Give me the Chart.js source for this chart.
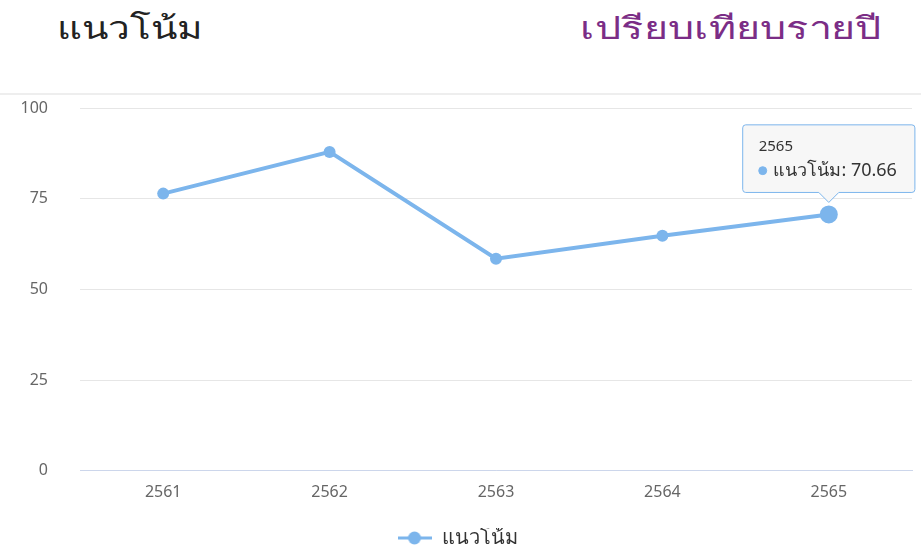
<!DOCTYPE html>
<html>
<head>
<meta charset="utf-8">
<script src="https://cdn.jsdelivr.net/npm/chart.js@4/dist/chart.umd.min.js"></script>
<style>
    body { margin: 0; background: #fff; font-family: "Noto Sans", sans-serif; }
    #wrap { position: relative; width: 921px; height: 547px; overflow: hidden; }
    .title { position: absolute; top: 7px; font-size: 31px; line-height: 40px; }
    #title-left { left: 57px; color: #222; transform: scaleX(1.25); transform-origin: left center; }
    #title-right { right: 39px; color: #7b2d86; transform: scaleX(1.33); transform-origin: right center; }
    #sep { position: absolute; left: 0; right: 0; top: 93px; height: 2px; background: #eeeeee; }
    #chart-box { position: absolute; left: 0; top: 0; width: 921px; height: 547px; }
</style>
</head>
<body>
<div id="wrap">
    <div id="sep"></div>
    <div class="title" id="title-left">แนวโน้ม</div>
    <div class="title" id="title-right">เปรียบเทียบรายปี</div>
    <div id="chart-box"><canvas id="trend-chart"></canvas></div>
</div>
<script>
// Data
const YEARS = ['2561', '2562', '2563', '2564', '2565'];
const TREND = [76.4, 87.9, 58.45, 64.8, 70.66];
const SERIES_NAME = 'แนวโน้ม';
const Y_TICKS = [0, 25, 50, 75, 100];

const LINE_COLOR = '#7cb5ec';

Chart.defaults.font.family = '"Noto Sans", sans-serif';

// Legend symbol: line with a dot, like the original
function legendSymbol() {
    const c = document.createElement('canvas');
    c.width = 34;
    c.height = 14;
    const g = c.getContext('2d');
    g.strokeStyle = LINE_COLOR;
    g.lineWidth = 3;
    g.beginPath();
    g.moveTo(0, 7);
    g.lineTo(34, 7);
    g.stroke();
    g.fillStyle = LINE_COLOR;
    g.beginPath();
    g.arc(17, 7, 6.5, 0, Math.PI * 2);
    g.fill();
    return c;
}

const ctx = document.getElementById('trend-chart').getContext('2d');
const chart = new Chart(ctx, {
    type: 'line',
    data: {
        labels: YEARS,
        datasets: [{
            label: SERIES_NAME,
            data: TREND,
            borderColor: LINE_COLOR,
            backgroundColor: LINE_COLOR,
            borderWidth: 4,
            tension: 0,
            pointRadius: 6,
            pointHoverRadius: 9,
            pointBackgroundColor: LINE_COLOR,
            pointHoverBackgroundColor: LINE_COLOR,
            pointBorderWidth: 0,
            pointHoverBorderWidth: 0
        }]
    },
    options: {
        responsive: true,
        maintainAspectRatio: false,
        animation: false,
        layout: {
            padding: { top: 108, right: 6, left: 0, bottom: -11 }
        },
        interaction: { mode: 'index', intersect: false },
        plugins: {
            legend: {
                position: 'bottom',
                labels: {
                    usePointStyle: true,
                    pointStyleWidth: 34,
                    padding: 0,
                    color: '#333',
                    font: { size: 20 },
                    generateLabels: (ch) => {
                        const items = Chart.defaults.plugins.legend.labels.generateLabels(ch);
                        items.forEach(it => { it.pointStyle = legendSymbol(); });
                        return items;
                    }
                }
            },
            tooltip: {
                backgroundColor: 'rgba(247, 247, 247, 0.95)',
                borderColor: LINE_COLOR,
                borderWidth: 1,
                cornerRadius: 3,
                titleColor: '#333',
                bodyColor: '#333',
                titleFont: { size: 15, weight: 'normal' },
                bodyFont: { size: 18 },
                padding: { top: 13, bottom: 11, left: 16, right: 18 },
                titleMarginBottom: 4,
                caretSize: 10,
                caretPadding: 12,
                yAlign: 'bottom',
                usePointStyle: true,
                boxWidth: 8,
                boxHeight: 8,
                callbacks: {
                    label: (item) => ' ' + item.dataset.label + ': ' + item.formattedValue,
                    labelColor: () => ({ borderColor: LINE_COLOR, backgroundColor: LINE_COLOR }),
                    labelPointStyle: () => ({ pointStyle: 'circle', rotation: 0 })
                }
            }
        },
        scales: {
            x: {
                offset: true,
                afterFit: (axis) => { axis.height += 14; },
                grid: { display: false, drawTicks: false },
                border: { display: true, color: '#ccd6eb', width: 1 },
                ticks: { color: '#666', font: { size: 16 }, padding: 12 }
            },
            y: {
                min: 0,
                max: 100,
                afterBuildTicks: (axis) => { axis.ticks = Y_TICKS.map(v => ({ value: v })); },
                afterFit: (axis) => { axis.width = 80; },
                grid: { color: '#e6e6e6', drawTicks: false },
                border: { display: false },
                ticks: { color: '#666', font: { size: 16 }, padding: 32 }
            }
        }
    }
});

// Show the tooltip on the last year like in the original picture
const last = TREND.length - 1;
const pt = chart.getDatasetMeta(0).data[last];
chart.setActiveElements([{ datasetIndex: 0, index: last }]);
chart.tooltip.setActiveElements([{ datasetIndex: 0, index: last }], { x: pt.x, y: pt.y });
chart.update();
</script>
</body>
</html>
